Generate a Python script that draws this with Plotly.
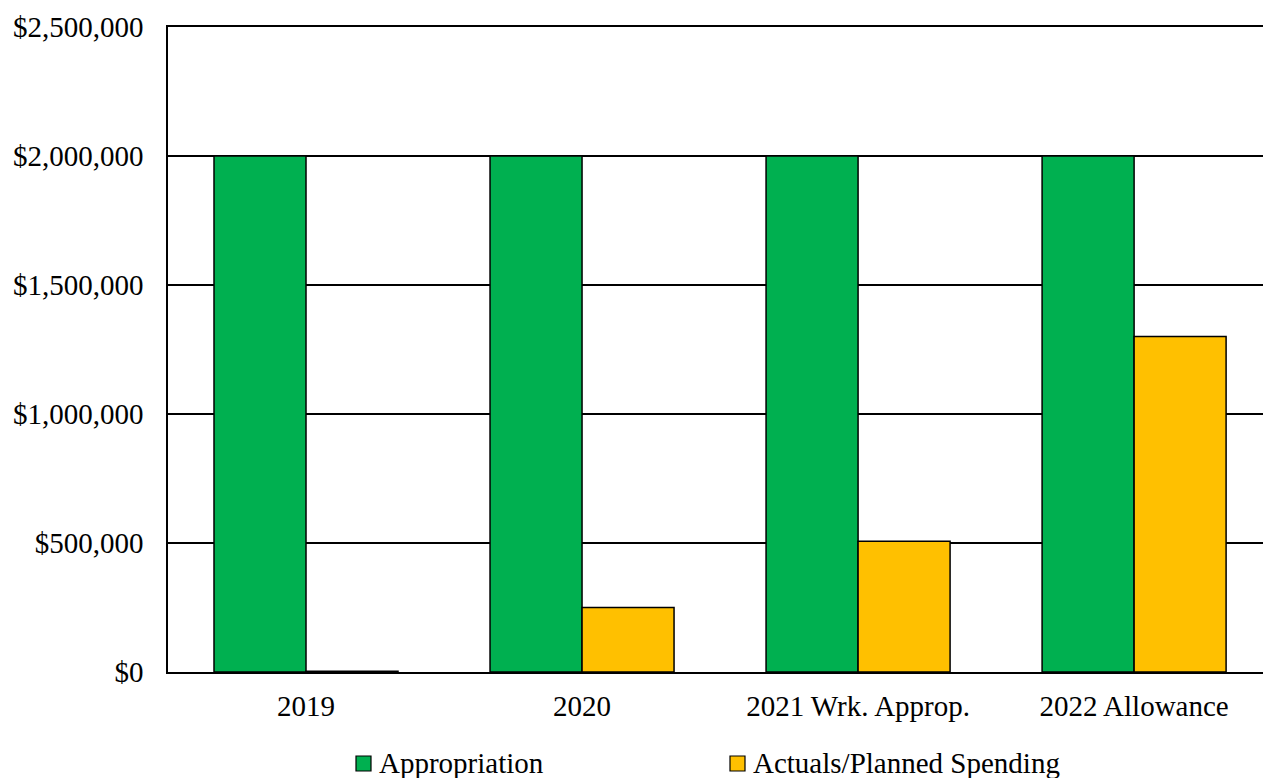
import plotly.graph_objects as go

categories = ["2019", "2020", "2021 Wrk. Approp.", "2022 Allowance"]
appropriation = [2000000, 2000000, 2000000, 2000000]
actuals_planned = [3000, 250000, 507000, 1300000]
y_ticks = [0, 500000, 1000000, 1500000, 2000000, 2500000]
y_tick_labels = ["$0", "$500,000", "$1,000,000", "$1,500,000", "$2,000,000", "$2,500,000"]
series_names = ["Appropriation", "Actuals/Planned Spending"]
series_colors = ["#00B050", "#FFC000"]

FONT = "Liberation Serif, Times New Roman, serif"
W, H = 1263, 778
ML, MR, MT, MB = 168, 0, 27, 106
PW, PH = W - ML - MR, H - MT - MB


def px_x(x):
    return (x - ML) / PW


def px_y(y):
    return (H - MB - y) / PH


fig = go.Figure()
for name, vals, col in zip(series_names, [appropriation, actuals_planned], series_colors):
    fig.add_trace(go.Bar(
        name=name, x=categories, y=vals, showlegend=False,
        marker=dict(color=col, line=dict(color="black", width=1.5)),
    ))

# Legend drawn as swatches + labels below the plot
legend_left = [356, 730]
for name, col, lx in zip(series_names, series_colors, legend_left):
    fig.add_shape(
        type="rect", xref="paper", yref="paper",
        x0=px_x(lx), x1=px_x(lx + 15), y0=px_y(771), y1=px_y(756),
        fillcolor=col, line=dict(color="black", width=1.2),
    )
    fig.add_annotation(
        xref="paper", yref="paper", x=px_x(lx + 21), y=px_y(763),
        xanchor="left", yanchor="middle", showarrow=False,
        text=name, font=dict(family=FONT, size=29, color="black"),
    )

fig.update_layout(
    width=W, height=H,
    margin=dict(l=ML, r=MR, t=MT, b=MB),
    paper_bgcolor="white", plot_bgcolor="white",
    font=dict(family=FONT, size=29, color="black"),
    barmode="group", bargap=1/3, bargroupgap=0,
    showlegend=False,
)
fig.update_xaxes(
    type="category", range=[-0.5, 3.467],
    showline=True, linecolor="black", linewidth=1.5, mirror=True,
    showgrid=False, ticks="", ticklabelstandoff=7, tickfont=dict(size=29),
)
fig.update_yaxes(
    range=[0, 2500000], tickvals=y_ticks, ticktext=y_tick_labels,
    showgrid=True, gridcolor="black", gridwidth=1.5,
    showline=True, linecolor="black", linewidth=1.5,
    zeroline=False, ticks="", ticklabelstandoff=17, tickfont=dict(size=29),
)

fig.write_html("out.html", config={"displayModeBar": False})
